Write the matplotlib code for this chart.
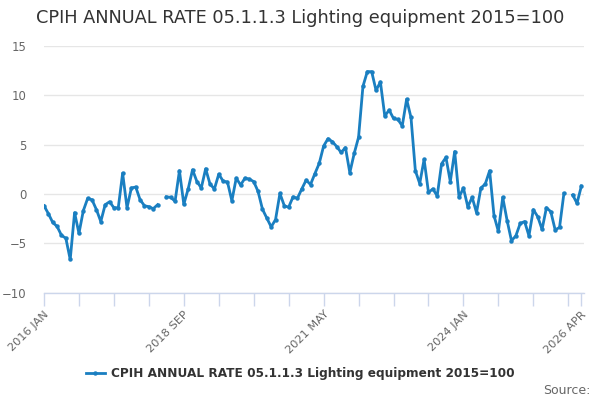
import numpy as np
import matplotlib
matplotlib.use("Agg")
import matplotlib.pyplot as plt

# Monthly annual rate (%), Jan 2016 to Apr 2026; None = no value published
values = [
    -1.2, -2.0, -2.9, -3.3, -4.2, -4.5, -6.65, -1.9, -4.0, -1.7, -0.45, -0.6,   # 2016
    -1.6, -2.8, -1.1, -0.8, -1.4, -1.4, 2.1, -1.4, 0.6, 0.7, -0.6, -1.2,         # 2017
    -1.3, -1.5, -1.1, None, -0.3, -0.35, -0.75, 2.35, -1.05, 0.5, 2.45, 1.25,    # 2018
    0.6, 2.55, 1.0, 0.5, 2.0, 1.3, 1.2, -0.7, 1.6, 0.9, 1.6, 1.5,               # 2019
    1.25, 0.25, -1.55, -2.45, -3.35, -2.6, 0.05, -1.2, -1.35, -0.3, -0.45, 0.5,  # 2020
    1.4, 0.95, 2.05, 3.1, 4.85, 5.6, 5.3, 4.8, 4.2, 4.7, 2.15, 4.1,             # 2021
    5.75, 10.9, 12.4, 12.4, 10.5, 11.35, 7.9, 8.5, 7.65, 7.55, 6.9, 9.6,        # 2022
    7.75, 2.35, 1.05, 3.5, 0.15, 0.5, -0.2, 3.05, 3.7, 1.25, 4.3, -0.35,        # 2023
    0.6, -1.3, -0.35, -1.9, 0.6, 1.0, 2.35, -2.2, -3.8, -0.35, -2.7, -4.75,     # 2024
    -4.25, -3.0, -2.8, -4.25, -1.6, -2.3, -3.6, -1.4, -1.8, -3.65, -3.4, 0.05,  # 2025
    None, -0.1, -0.95, 0.8,                                                     # 2026
]
months = ["JAN", "FEB", "MAR", "APR", "MAY", "JUN",
          "JUL", "AUG", "SEP", "OCT", "NOV", "DEC"]
start_year = 2016
series_name = "CPIH ANNUAL RATE 05.1.1.3 Lighting equipment 2015=100"

y = np.array([np.nan if v is None else v for v in values], dtype=float)
x = np.arange(len(y))
labels = [f"{start_year + i // 12} {months[i % 12]}" for i in x]

line_col = "#1a7fc1"
text_col = "#666666"

fig = plt.figure(figsize=(6, 4), dpi=100)
ax = fig.add_axes([44 / 600, 1 - 292.5 / 400, 540 / 600, 246.5 / 400])

ax.plot(x, y, color=line_col, lw=2, marker="o", ms=3.2,
        markeredgewidth=0, label=series_name, zorder=3)

ax.set_xlim(0, 123.6)
ax.set_ylim(-10, 15)
ax.set_yticks([-10, -5, 0, 5, 10, 15])
ax.grid(axis="y", color="#e6e6e6", lw=1)
ax.set_axisbelow(True)

for s in ["top", "right", "left"]:
    ax.spines[s].set_visible(False)
ax.spines["bottom"].set_color("#ccd6eb")
ax.spines["bottom"].set_linewidth(1)

ticks = list(range(0, len(y), 8)) + [len(y) - 1]
ax.set_xticks(ticks)
ax.set_xticklabels([labels[t] if t % 32 == 0 or t == len(y) - 1 else "" for t in ticks],
                   rotation=45, ha="right", rotation_mode="anchor")
ax.tick_params(axis="x", length=9, width=1, color="#ccd6eb",
               labelsize=8.2, labelcolor=text_col, pad=3)
ax.tick_params(axis="y", length=0, labelsize=8.4, labelcolor=text_col, pad=12.5)

fig.text(0.5, 1 - 18 / 400, series_name, ha="center", va="center",
         fontsize=12.8, color="#333333")

fig.legend(loc="center", bbox_to_anchor=(0.5, 1 - 374 / 400), frameon=False,
           handlelength=1.6, handletextpad=0.5,
           prop={"size": 8.7, "weight": "bold"}, labelcolor="#333333")

fig.text(590 / 600, 1 - 390 / 400, "Source:", ha="right", va="center",
         fontsize=9, color=text_col)

fig.savefig("out.png", dpi=100)
